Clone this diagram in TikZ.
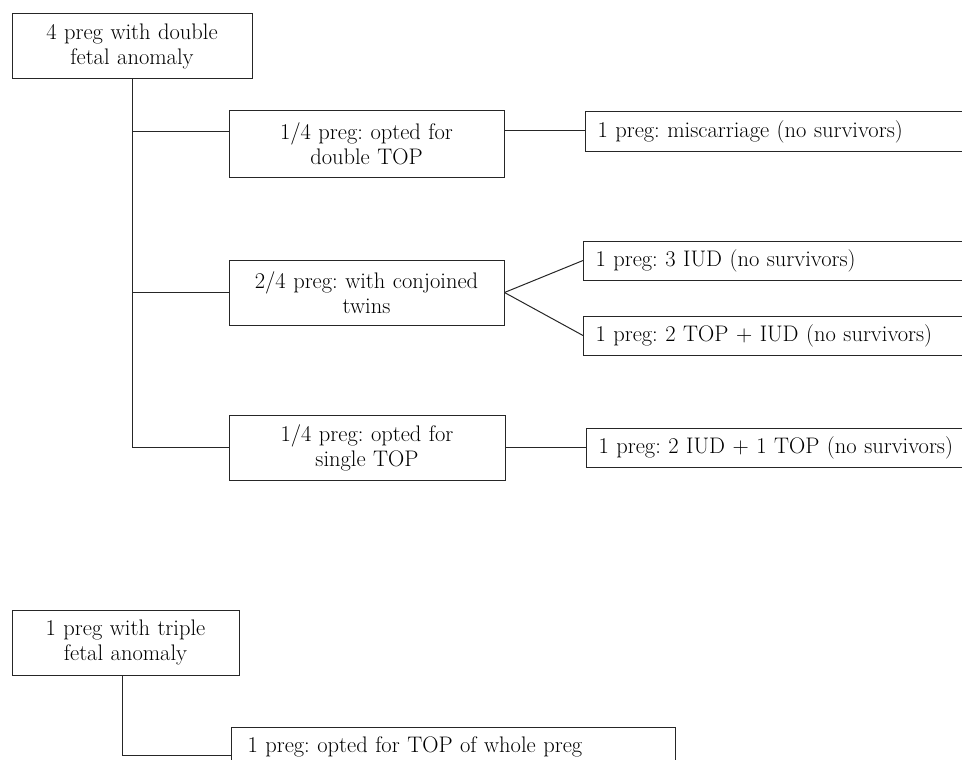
\documentclass[tikz,border=0pt]{standalone}
\begin{document}
\frenchspacing
\begin{tikzpicture}[x=1pt,y=-1pt,
        every node/.style={font=\fontsize{22.5}{25}\selectfont},
        box/.style={draw=black!85, line width=1pt, inner sep=0pt},
        cbox/.style={box, align=center, text width=#1, minimum height=65pt},
        lbox/.style={box, align=left, anchor=west, inner xsep=12pt, text width=#1, minimum height=39pt}]
        \path[use as bounding box, clip] (0,0) rectangle (962,760);
        \node[cbox=240pt] (v0) at (132,46.5) {4 preg with double\\fetal anomaly};
        \node[cbox=275pt, minimum height=66pt] (v1) at (366.5,144) {1/4 preg: opted for\\double TOP};
        \node[cbox=275pt] (v2) at (366.5,292.5) {2/4 preg: with conjoined\\twins};
        \node[cbox=276pt] (v3) at (367,447.5) {1/4 preg: opted for\\single TOP};
        \node[lbox=400pt] (v4) at (585,131.5) {1 preg: miscarriage (no survivors)};
        \node[lbox=400pt] (v5) at (583,260.5) {1 preg: 3 IUD (no survivors)};
        \node[lbox=400pt] (v6) at (583,335.5) {1 preg: 2 TOP + IUD (no survivors)};
        \node[lbox=400pt] (v7) at (586,447.5) {1 preg: 2 IUD + 1 TOP (no survivors)};
        \node[cbox=227pt] (v8) at (125.5,642.5) {1 preg with triple\\fetal anomaly};
        \node[lbox=412pt, inner xsep=16pt] (v9) at (231,746.5) {1 preg: opted for TOP of whole preg};
        \coordinate (c0) at (229,131);
        \coordinate (c1) at (504,130);
        \coordinate (c2) at (231,755);
        \coordinate (c3) at (122,675);
        \draw[black!85, line width=1pt] (v0.south) -- (v0.south |- v3.west);
        \draw[black!85, line width=1pt] (v0.south |- c0) -- (c0);
        \draw[black!85, line width=1pt] (v0.south |- v2.west) -- (v2.west);
        \draw[black!85, line width=1pt] (v0.south |- v3.west) -- (v3.west);
        \draw[black!85, line width=1pt] (c1) -- (c1 -| v4.west);
        \draw[black!85, line width=1pt] (v2.east) -- (v5.west);
        \draw[black!85, line width=1pt] (v2.east) -- (v6.west);
        \draw[black!85, line width=1pt] (v3.east) -- (v7.west);
        \draw[black!85, line width=1pt] (c3) |- (c2);
\end{tikzpicture}
\end{document}
